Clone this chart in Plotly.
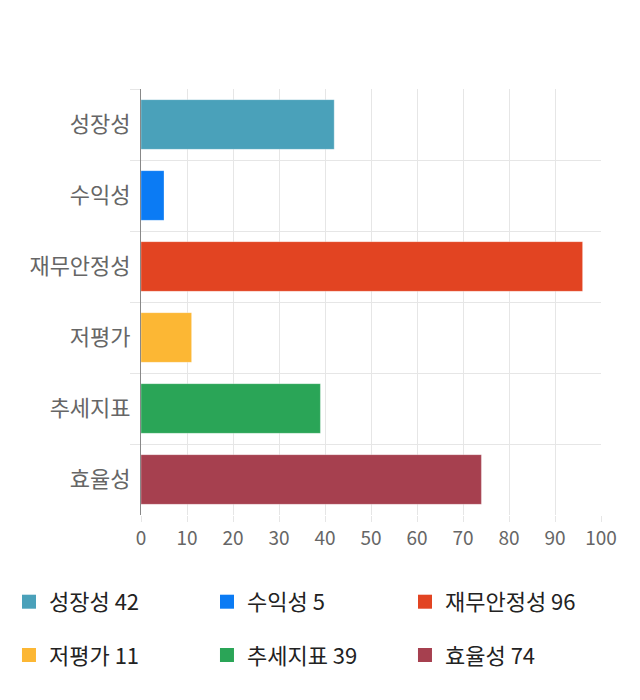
import plotly.graph_objects as go

# --- dados ---
categorias = ['성장성', '수익성', '재무안정성', '저평가', '추세지표', '효율성']
valores = [42, 5, 96, 11, 39, 74]
cores = ['#4aa1ba', '#0b7bf4', '#e24422', '#fcb734', '#2aa557', '#a6404f']
x_ticks = list(range(0, 101, 10))

fig = go.Figure()

for i, (cat, val, cor) in enumerate(zip(categorias, valores, cores)):
    fig.add_trace(go.Bar(
        x=[val],
        y=[cat],
        orientation='h',
        marker=dict(color=cor, line=dict(color='rgba(255,255,255,0.3)', width=1)),
        showlegend=False,
        hoverinfo='skip',
    ))
    # entrada da legenda com quadrado maior
    fig.add_trace(go.Scatter(
        x=[None],
        y=[None],
        mode='markers',
        name=f'{cat} {val}',
        marker=dict(symbol='square', size=14, color=cor),
        legend='legend' if i < 3 else 'legend2',
    ))

font_family = 'Noto Sans CJK KR'
legend_base = dict(
    orientation='h',
    xanchor='left',
    yanchor='middle',
    x=-0.287,
    entrywidth=153,
    entrywidthmode='pixels',
    font=dict(family=font_family, size=22, color='#222'),
    bgcolor='rgba(0,0,0,0)',
    itemclick=False,
)

# a página tem 8px de margem no body, descontados aqui
fig.update_layout(
    width=640,
    height=700,
    margin=dict(l=133, r=47, t=81, b=193, autoexpand=False),
    paper_bgcolor='white',
    plot_bgcolor='white',
    bargap=0.3,
    barmode='overlay',
    showlegend=True,
    font=dict(family=font_family),
    xaxis=dict(
        range=[0, 100],
        tickvals=x_ticks,
        showgrid=True,
        gridcolor='#e6e6e6',
        zeroline=False,
        ticks='outside',
        ticklen=6,
        tickcolor='#e6e6e6',
        tickfont=dict(family=font_family, size=19, color='#666'),
        fixedrange=True,
    ),
    yaxis=dict(
        categoryorder='array',
        categoryarray=categorias,
        autorange='reversed',
        tickson='boundaries',
        showgrid=True,
        gridcolor='#e6e6e6',
        ticks='outside',
        ticklen=10,
        tickcolor='#e6e6e6',
        showline=True,
        linecolor='#888',
        linewidth=1,
        tickfont=dict(family=font_family, size=22, color='#666'),
        ticklabelstandoff=5,
        fixedrange=True,
    ),
    legend=dict(legend_base, y=-0.204),
    legend2=dict(legend_base, y=-0.329),
)

fig.write_html('out.html')
